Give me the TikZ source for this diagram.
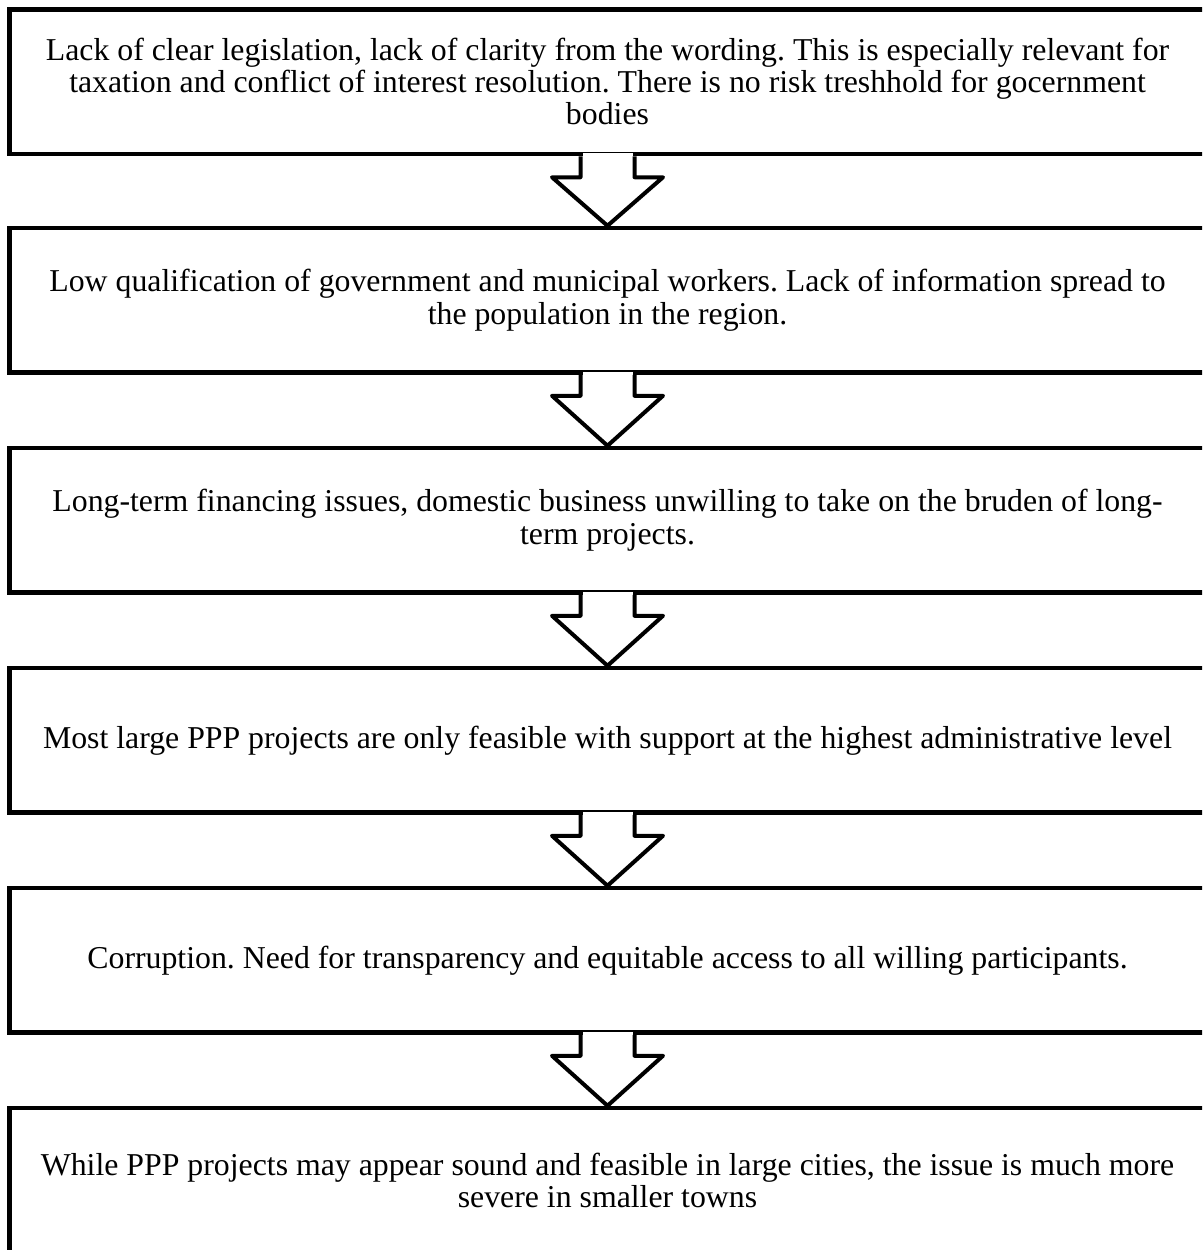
\documentclass[tikz,border=0pt]{standalone}
\usepackage{fontspec}
\setmainfont{Liberation Serif}
\usetikzlibrary{calc}
\frenchspacing
\tikzset{
  stepbox/.style={draw=black, line width=4.5pt, fill=white, minimum width=1196.5pt, minimum height=144.5pt,
    inner sep=0pt, align=center, font=\fontsize{31.8}{32.2}\selectfont},
  flowarrow/.style={draw=black, line width=4pt, line join=round}
}
\newcommand{\flowarr}[2]{%
  \fill[white] ($(#1.south)+(-25,-3)$) rectangle ($(#1.south)+(25,3)$);
  \draw[flowarrow] ($(#1.south)+(-27,0)$) -- ($(#1.south)+(-27,21)$) -- ($(#1.south)+(-55.5,21)$)
    -- (#2.north) -- ($(#1.south)+(55.5,21)$) -- ($(#1.south)+(27,21)$) -- ($(#1.south)+(27,0)$);
}
\begin{document}
\begin{tikzpicture}[x=1pt,y=-1pt]
\useasboundingbox (0,0) rectangle (1202,1250);
\clip (0,0) rectangle (1202,1250);
\node[stepbox] (b1) at (607.5,81.75) {Lack of clear legislation, lack of clarity from the wording. This is especially relevant for\\taxation and conflict of interest resolution. There is no risk treshhold for gocernment\\bodies};
\node[stepbox] (b2) at (607.5,300.25) {Low qualification of government and municipal workers. Lack of information spread to\\the population in the region.};
\node[stepbox] (b3) at (607.5,520.25) {Long-term financing issues, domestic business unwilling to take on the bruden of long-\\term projects.};
\node[stepbox] (b4) at (607.5,740.25) {Most large PPP projects are only feasible with support at the highest administrative level};
\node[stepbox] (b5) at (607.5,960.25) {Corruption. Need for transparency and equitable access to all willing participants.};
\node[stepbox] (b6) at (607.5,1180.25) {While PPP projects may appear sound and feasible in large cities, the issue is much more\\severe in smaller towns};
\flowarr{b1}{b2}
\flowarr{b2}{b3}
\flowarr{b3}{b4}
\flowarr{b4}{b5}
\flowarr{b5}{b6}
\end{tikzpicture}
\end{document}
